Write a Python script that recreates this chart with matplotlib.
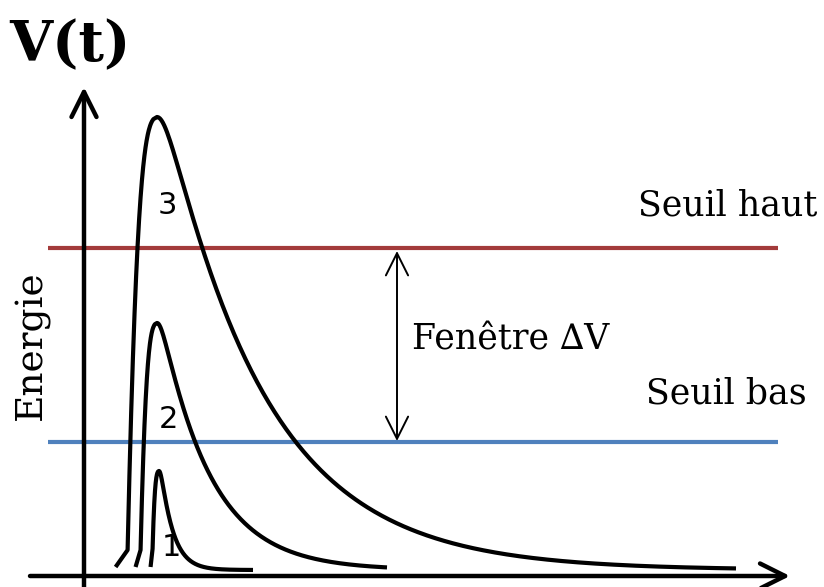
import numpy as np
import matplotlib
matplotlib.use("Agg")
import matplotlib.pyplot as plt

# Pulse shapes (t = time from the V axis, V = amplitude)
pulse_names = ["1", "2", "3"]
pulse_peak_t = [75, 73, 73]
pulse_peak_v = [105, 253, 459]
pulse_rise = [7, 17, 30]         # width of the rising edge
pulse_foot = [2, 5, 12]          # small kink at the foot of the rise
pulse_tau = [12, 49, 100]        # decay constant
pulse_round = [3, 6.5, 13]       # rounding of the top
pulse_end_t = [169, 303, 652]
pulse_base = 6
foot_h = 20
label_t = [87, 84, 83]
label_v = [28, 156, 371]

seuil_haut = 328
seuil_bas = 134
seuil_t = [-36, 694]

red = "#A33B3B"
blue = "#4F81BD"
serif = ["DejaVu Serif"]


def pulse(tp, vp, r, foot, tau, c, t_end):
    a = vp - pulse_base
    u = np.linspace(foot_h / a, 1, 200)
    w = 1 - u
    # steep rising edge, rounded near the top
    g = w ** (1 / 3) * (w / (w + 0.03)) ** (1 / 6)
    t_up = tp - r * g
    v_up = pulse_base + a * u
    t_dn = np.linspace(tp, t_end, 400)
    s = np.sqrt((t_dn - tp) ** 2 + c ** 2) - c
    v_dn = pulse_base + a * np.exp(-s / tau)
    t_foot = [t_up[0] - foot]
    v_foot = [pulse_base + 3]
    return (np.concatenate([t_foot, t_up, t_dn]),
            np.concatenate([v_foot, v_up, v_dn]))


fig = plt.figure(figsize=(8.24, 5.87), dpi=100)
ax = fig.add_axes([0, 0, 1, 1])
ax.set_xlim(-84, 740)
ax.set_ylim(-11, 576)
ax.axis("off")

# axes with arrow heads
ax.annotate("", xy=(706, 0), xytext=(-54, 0),
            arrowprops=dict(arrowstyle="->,head_length=0.9,head_width=0.45",
                            lw=3.2, color="black", mutation_scale=20,
                            shrinkA=0, shrinkB=0))
ax.annotate("", xy=(0, 489), xytext=(0, -11),
            arrowprops=dict(arrowstyle="->,head_length=0.9,head_width=0.45",
                            lw=3.2, color="black", mutation_scale=20,
                            shrinkA=0, shrinkB=0))

# thresholds
ax.plot(seuil_t, [seuil_haut, seuil_haut], color=red, lw=3, solid_capstyle="butt")
ax.plot(seuil_t, [seuil_bas, seuil_bas], color=blue, lw=3, solid_capstyle="butt")

# pulses
for i in range(len(pulse_names)):
    t, v = pulse(pulse_peak_t[i], pulse_peak_v[i], pulse_rise[i], pulse_foot[i],
                 pulse_tau[i], pulse_round[i], pulse_end_t[i])
    ax.plot(t, v, color="black", lw=3, solid_capstyle="butt",
            solid_joinstyle="round")
    ax.text(label_t[i], label_v[i], pulse_names[i], fontsize=22,
            family=["DejaVu Sans"], ha="center", va="center")

# window arrow
ax.annotate("", xy=(313, seuil_haut - 3), xytext=(313, seuil_bas + 1),
            arrowprops=dict(arrowstyle="<->,head_length=0.8,head_width=0.4",
                            lw=1.4, color="black", mutation_scale=20,
                            shrinkA=0, shrinkB=0))

ax.text(427, 236, "Fenêtre \u2206V", fontsize=25, family=serif,
        ha="center", va="center")
ax.text(644, 371, "Seuil haut", fontsize=25, family=serif,
        ha="center", va="center")
ax.text(642, 182, "Seuil bas", fontsize=25, family=serif,
        ha="center", va="center")
ax.text(-52, 231, "Energie", fontsize=27, family=serif, rotation=90,
        ha="center", va="center")
ax.text(-14, 530, "V(t)", fontsize=40, family=serif, fontweight="bold",
        ha="center", va="center")

fig.savefig("out.png", dpi=100)
